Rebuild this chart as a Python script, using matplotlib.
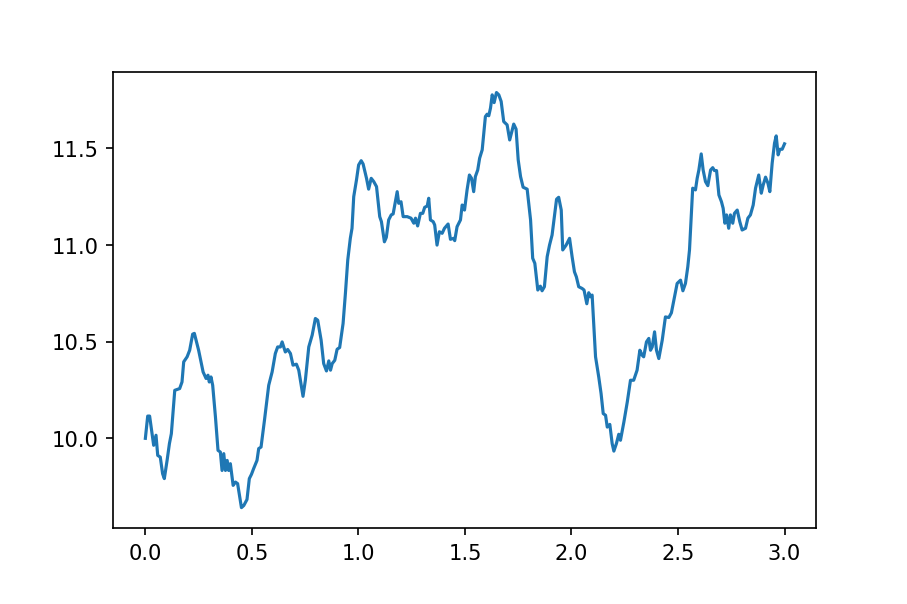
import matplotlib
matplotlib.use("Agg")
import matplotlib.pyplot as plt

# время (годы) и значение ряда
t = [0.000, 0.011, 0.020, 0.039, 0.050, 0.058, 0.070, 0.081, 0.089, 0.102,
     0.113, 0.122, 0.138, 0.161, 0.172, 0.180, 0.196, 0.208, 0.222, 0.230,
     0.250, 0.271, 0.285, 0.294, 0.300, 0.308, 0.316, 0.329, 0.341, 0.352,
     0.360, 0.368, 0.376, 0.384, 0.391, 0.399, 0.412, 0.423, 0.433, 0.451,
     0.462, 0.477, 0.488, 0.498, 0.508, 0.524, 0.532, 0.543, 0.559, 0.579,
     0.595, 0.610, 0.621, 0.634, 0.642, 0.657, 0.668, 0.681, 0.693, 0.709,
     0.720, 0.740, 0.751, 0.767, 0.783, 0.798, 0.809, 0.825, 0.837, 0.850,
     0.861, 0.869, 0.877, 0.889, 0.900, 0.912, 0.928, 0.939, 0.950, 0.962,
     0.970, 0.978, 0.991, 1.001, 1.013, 1.022, 1.038, 1.048, 1.060, 1.072,
     1.085, 1.100, 1.108, 1.122, 1.131, 1.142, 1.154, 1.163, 1.182, 1.189,
     1.200, 1.210, 1.229, 1.247, 1.260, 1.268, 1.278, 1.291, 1.302, 1.311,
     1.323, 1.330, 1.338, 1.351, 1.358, 1.369, 1.380, 1.393, 1.404, 1.421,
     1.432, 1.447, 1.452, 1.463, 1.479, 1.487, 1.498, 1.510, 1.521, 1.531,
     1.541, 1.549, 1.560, 1.569, 1.581, 1.596, 1.604, 1.612, 1.620, 1.628,
     1.637, 1.648, 1.659, 1.670, 1.682, 1.698, 1.710, 1.729, 1.740, 1.750,
     1.761, 1.773, 1.792, 1.808, 1.818, 1.828, 1.842, 1.854, 1.862, 1.873,
     1.886, 1.897, 1.909, 1.922, 1.930, 1.940, 1.952, 1.959, 1.975, 1.991,
     2.003, 2.014, 2.023, 2.034, 2.050, 2.059, 2.072, 2.081, 2.089, 2.097,
     2.105, 2.113, 2.128, 2.139, 2.149, 2.160, 2.168, 2.180, 2.191, 2.199,
     2.211, 2.222, 2.230, 2.246, 2.262, 2.277, 2.292, 2.308, 2.321, 2.332,
     2.339, 2.352, 2.363, 2.371, 2.379, 2.390, 2.399, 2.410, 2.426, 2.441,
     2.457, 2.469, 2.484, 2.496, 2.512, 2.523, 2.535, 2.546, 2.554, 2.562,
     2.569, 2.582, 2.590, 2.598, 2.609, 2.618, 2.629, 2.640, 2.653, 2.663,
     2.671, 2.681, 2.692, 2.704, 2.712, 2.720, 2.728, 2.738, 2.746, 2.757,
     2.765, 2.778, 2.790, 2.801, 2.817, 2.828, 2.840, 2.853, 2.864, 2.879,
     2.891, 2.900, 2.911, 2.922, 2.931, 2.942, 2.953, 2.961, 2.970, 2.978,
     2.989, 3.000]

values = [10.00, 10.115, 10.115, 9.964, 10.016, 9.912, 9.903, 9.817, 9.792, 9.886,
          9.973, 10.024, 10.248, 10.257, 10.291, 10.395, 10.421, 10.455, 10.538, 10.542,
          10.455, 10.343, 10.309, 10.326, 10.291, 10.317, 10.274, 10.110, 9.938, 9.929,
          9.834, 9.921, 9.834, 9.886, 9.834, 9.869, 9.757, 9.774, 9.766, 9.642,
          9.653, 9.684, 9.792, 9.814, 9.843, 9.886, 9.947, 9.955, 10.093, 10.274,
          10.343, 10.438, 10.472, 10.472, 10.498, 10.446, 10.459, 10.438, 10.378, 10.383,
          10.352, 10.217, 10.300, 10.472, 10.533, 10.619, 10.610, 10.507, 10.386, 10.348,
          10.400, 10.352, 10.386, 10.403, 10.460, 10.469, 10.593, 10.749, 10.921, 11.033,
          11.085, 11.248, 11.335, 11.412, 11.434, 11.417, 11.343, 11.287, 11.343, 11.326,
          11.300, 11.145, 11.119, 11.015, 11.038, 11.128, 11.154, 11.159, 11.274, 11.214,
          11.222, 11.145, 11.145, 11.137, 11.111, 11.137, 11.097, 11.162, 11.162, 11.193,
          11.200, 11.240, 11.128, 11.119, 11.102, 10.998, 11.067, 11.059, 11.085, 11.107,
          11.028, 11.033, 11.021, 11.093, 11.128, 11.205, 11.179, 11.283, 11.360, 11.343,
          11.274, 11.352, 11.386, 11.447, 11.490, 11.662, 11.674, 11.666, 11.706, 11.774,
          11.734, 11.786, 11.774, 11.740, 11.636, 11.619, 11.541, 11.623, 11.597, 11.438,
          11.352, 11.297, 11.287, 11.128, 10.930, 10.904, 10.766, 10.786, 10.762, 10.783,
          10.938, 10.998, 11.050, 11.162, 11.235, 11.245, 11.179, 10.973, 10.998, 11.033,
          10.938, 10.860, 10.834, 10.783, 10.774, 10.766, 10.695, 10.752, 10.731, 10.740,
          10.576, 10.421, 10.317, 10.231, 10.128, 10.119, 10.058, 10.072, 9.973, 9.934,
          9.973, 10.021, 9.990, 10.084, 10.188, 10.300, 10.300, 10.352, 10.455, 10.429,
          10.421, 10.498, 10.516, 10.455, 10.472, 10.550, 10.455, 10.412, 10.507, 10.627,
          10.624, 10.648, 10.731, 10.800, 10.817, 10.762, 10.800, 10.886, 10.973, 11.145,
          11.292, 11.283, 11.343, 11.386, 11.469, 11.386, 11.326, 11.305, 11.386, 11.398,
          11.383, 11.383, 11.257, 11.222, 11.188, 11.111, 11.154, 11.085, 11.154, 11.111,
          11.162, 11.179, 11.119, 11.076, 11.085, 11.137, 11.154, 11.205, 11.292, 11.360,
          11.266, 11.309, 11.349, 11.318, 11.274, 11.421, 11.524, 11.562, 11.464, 11.493,
          11.493, 11.521]

fig, ax = plt.subplots(figsize=(6, 4))
fig.subplots_adjust(left=0.125, right=0.9, top=0.88, bottom=0.125)
ax.plot(t, values)

fig.savefig("out.png", dpi=151.2)
